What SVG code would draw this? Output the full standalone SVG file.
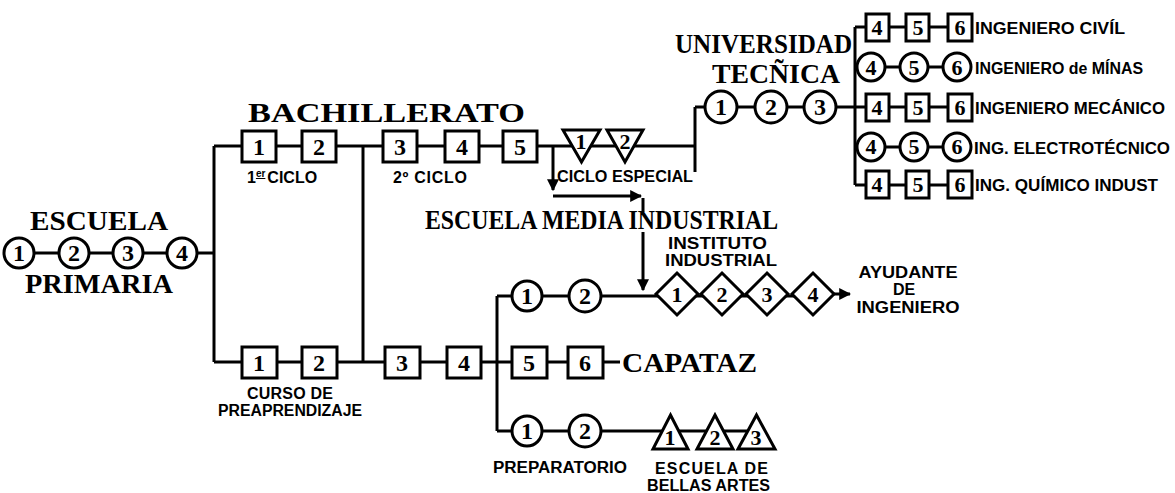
<svg xmlns="http://www.w3.org/2000/svg" width="1175" height="493" viewBox="0 0 1175 493">
<style>
.ln{stroke:#000;stroke-width:3;fill:none}
.sh{fill:#fff;stroke:#000;stroke-width:3}
.n{font-family:"Liberation Serif","DejaVu Serif",serif;font-weight:bold;font-size:24px;text-anchor:middle}
.ns{font-family:"Liberation Serif","DejaVu Serif",serif;font-weight:bold;font-size:22px;text-anchor:middle}
.t{font-family:"Liberation Serif","DejaVu Serif",serif;font-weight:bold;font-size:28px}
.l{font-family:"Liberation Sans",Arial,sans-serif;font-weight:bold;font-size:16px}
.r{font-family:"Liberation Sans",Arial,sans-serif;font-weight:bold;font-size:17px}
</style>
<defs>
<marker id="ah" viewBox="0 0 10 10" refX="9" refY="5" markerWidth="4" markerHeight="4" orient="auto" markerUnits="strokeWidth">
<path d="M0,0 L10,5 L0,10 z" fill="#000"/>
</marker>
</defs>

<g id="connectors">
<path class="ln" d="M19,253 H214"/>
<path class="ln" d="M214,146 V362"/>
<path class="ln" d="M214,146 H695"/>
<path class="ln" d="M363,146 V362"/>
<path class="ln" d="M695,107 V172"/>
<path class="ln" d="M695,107 H855"/>
<path class="ln" d="M553,146 V190" marker-end="url(#ah)"/>
<path class="ln" d="M553,196 H641" marker-end="url(#ah)"/>
<path class="ln" d="M643,198 V212"/>
<path class="ln" d="M643,232 V290" marker-end="url(#ah)"/>
<path class="ln" d="M214,362 H620"/>
<path class="ln" d="M497,296 V431"/>
<path class="ln" d="M497,296 H810"/>
<path class="ln" d="M813,294 H850" marker-end="url(#ah)"/>
<path class="ln" d="M497,431 H760"/>
<path class="ln" d="M855,27 V185"/>
<path class="ln" d="M855,27 H960"/>
<path class="ln" d="M855,67 H957"/>
<path class="ln" d="M855,107 H960"/>
<path class="ln" d="M855,147 H957"/>
<path class="ln" d="M855,185 H960"/>
</g>

<g id="escuela-primaria">
<text class="t" x="30" y="230" textLength="138" lengthAdjust="spacingAndGlyphs">ESCUELA</text>
<circle class="sh" cx="19" cy="253" r="15"/><text class="n" x="19" y="261">1</text>
<circle class="sh" cx="74" cy="253" r="15"/><text class="n" x="74" y="261">2</text>
<circle class="sh" cx="128" cy="253" r="15"/><text class="n" x="128" y="261">3</text>
<circle class="sh" cx="182" cy="253" r="15"/><text class="n" x="182" y="261">4</text>
<text class="t" x="25" y="293" textLength="148" lengthAdjust="spacingAndGlyphs">PRIMARIA</text>
</g>

<g id="bachillerato">
<text class="t" x="248" y="122" textLength="277" lengthAdjust="spacingAndGlyphs">BACHILLERATO</text>
<rect class="sh" x="242" y="131" width="34" height="31"/><text class="n" x="259" y="155">1</text>
<rect class="sh" x="302" y="131" width="34" height="31"/><text class="n" x="319" y="155">2</text>
<rect class="sh" x="383" y="131" width="34" height="31"/><text class="n" x="400" y="155">3</text>
<rect class="sh" x="445" y="131" width="34" height="31"/><text class="n" x="462" y="155">4</text>
<rect class="sh" x="503" y="131" width="34" height="31"/><text class="n" x="520" y="155">5</text>
<text class="l" x="247" y="183">1<tspan font-size="10" dy="-6" text-decoration="underline">er</tspan><tspan dy="6" dx="2">CICLO</tspan></text>
<text class="l" x="393" y="183" textLength="74" lengthAdjust="spacing">2º CICLO</text>
</g>

<g id="ciclo-especial">
<path class="sh" d="M563,130 H600 L581.5,162 Z"/><text class="ns" x="581" y="149">1</text>
<path class="sh" d="M607,130 H643 L625,162 Z"/><text class="ns" x="625" y="149">2</text>
<text class="l" x="557" y="182" textLength="136" lengthAdjust="spacingAndGlyphs">CICLO ESPECIAL</text>
</g>

<g id="escuela-media-industrial">
<text class="t" x="425" y="229" font-size="27" textLength="353" lengthAdjust="spacingAndGlyphs">ESCUELA MEDIA INDUSTRIAL</text>
</g>

<g id="universidad-tecnica">
<text class="t" x="852" y="53" font-size="26" text-anchor="end" textLength="177" lengthAdjust="spacingAndGlyphs">UNIVERSIDAD</text>
<text class="t" x="712" y="83" font-size="27" textLength="128" lengthAdjust="spacingAndGlyphs">TECÑICA</text>
<circle class="sh" cx="721" cy="107" r="16"/><text class="n" x="721" y="115">1</text>
<circle class="sh" cx="771" cy="107" r="16"/><text class="n" x="771" y="115">2</text>
<circle class="sh" cx="820" cy="107" r="16"/><text class="n" x="820" y="115">3</text>
</g>

<g id="ingeniero-civil">
<rect class="sh" x="866" y="14" width="23" height="27"/><text class="ns" x="877" y="35">4</text>
<rect class="sh" x="906" y="14" width="23" height="27"/><text class="ns" x="918" y="35">5</text>
<rect class="sh" x="948" y="14" width="24" height="27"/><text class="ns" x="960" y="35">6</text>
<text class="r" x="975" y="34" textLength="150" lengthAdjust="spacingAndGlyphs">INGENIERO  CIVÍL</text>
</g>
<g id="ingeniero-minas">
<circle class="sh" cx="871" cy="67" r="14"/><text class="ns" x="871" y="75">4</text>
<circle class="sh" cx="914" cy="67" r="14"/><text class="ns" x="914" y="75">5</text>
<circle class="sh" cx="957" cy="67" r="14"/><text class="ns" x="957" y="75">6</text>
<text class="r" x="975" y="74" textLength="168" lengthAdjust="spacingAndGlyphs">INGENIERO de MÍNAS</text>
</g>
<g id="ingeniero-mecanico">
<rect class="sh" x="866" y="94" width="23" height="27"/><text class="ns" x="877" y="115">4</text>
<rect class="sh" x="906" y="94" width="23" height="27"/><text class="ns" x="918" y="115">5</text>
<rect class="sh" x="948" y="94" width="24" height="27"/><text class="ns" x="960" y="115">6</text>
<text class="r" x="975" y="114" textLength="190" lengthAdjust="spacingAndGlyphs">INGENIERO MECÁNICO</text>
</g>
<g id="ing-electrotecnico">
<circle class="sh" cx="871" cy="147" r="14"/><text class="ns" x="871" y="154">4</text>
<circle class="sh" cx="914" cy="147" r="14"/><text class="ns" x="914" y="154">5</text>
<circle class="sh" cx="957" cy="147" r="14"/><text class="ns" x="957" y="154">6</text>
<text class="r" x="974" y="154" textLength="196" lengthAdjust="spacingAndGlyphs">ING. ELECTROTÉCNICO</text>
</g>
<g id="ing-quimico">
<rect class="sh" x="866" y="171" width="23" height="27"/><text class="ns" x="877" y="192">4</text>
<rect class="sh" x="906" y="171" width="23" height="27"/><text class="ns" x="918" y="192">5</text>
<rect class="sh" x="948" y="171" width="24" height="27"/><text class="ns" x="960" y="192">6</text>
<text class="r" x="975" y="191" textLength="183" lengthAdjust="spacingAndGlyphs">ING. QUÍMICO INDUST</text>
</g>

<g id="curso-preaprendizaje">
<rect class="sh" x="242" y="347" width="35" height="31"/><text class="n" x="259" y="371">1</text>
<rect class="sh" x="302" y="347" width="35" height="31"/><text class="n" x="319" y="371">2</text>
<text class="l" x="247" y="399" textLength="86" lengthAdjust="spacing">CURSO  DE</text>
<text class="l" x="218" y="416" textLength="144" lengthAdjust="spacingAndGlyphs">PREAPRENDIZAJE</text>
</g>

<g id="capataz">
<rect class="sh" x="385" y="347" width="35" height="31"/><text class="n" x="402" y="371">3</text>
<rect class="sh" x="447" y="347" width="34" height="31"/><text class="n" x="464" y="371">4</text>
<rect class="sh" x="512" y="347" width="35" height="31"/><text class="n" x="529" y="371">5</text>
<rect class="sh" x="568" y="347" width="35" height="31"/><text class="n" x="585" y="371">6</text>
<text class="t" x="622" y="372" textLength="135" lengthAdjust="spacingAndGlyphs">CAPATAZ</text>
</g>

<g id="instituto-industrial">
<circle class="sh" cx="527" cy="296" r="15"/><text class="n" x="527" y="304">1</text>
<circle class="sh" cx="585" cy="296" r="16"/><text class="n" x="585" y="304">2</text>
<text class="l" x="668" y="249" font-size="15" textLength="99" lengthAdjust="spacingAndGlyphs">INSTITUTO</text>
<text class="l" x="665" y="266" font-size="15" textLength="112" lengthAdjust="spacingAndGlyphs">INDUSTRIAL</text>
<path class="sh" d="M677,273 L698,294 L677,315 L656,294 Z"/><text class="ns" x="677" y="302">1</text>
<path class="sh" d="M722,273 L743,294 L722,315 L701,294 Z"/><text class="ns" x="722" y="302">2</text>
<path class="sh" d="M767,273 L788,294 L767,315 L746,294 Z"/><text class="ns" x="767" y="302">3</text>
<path class="sh" d="M813,273 L834,294 L813,315 L792,294 Z"/><text class="ns" x="813" y="302">4</text>
<text class="l" x="908" y="278" text-anchor="middle" textLength="99" lengthAdjust="spacingAndGlyphs">AYUDANTE</text>
<text class="l" x="904" y="295" text-anchor="middle">DE</text>
<text class="l" x="908" y="313" text-anchor="middle" textLength="103" lengthAdjust="spacingAndGlyphs">INGENIERO</text>
</g>

<g id="bellas-artes">
<circle class="sh" cx="527" cy="431" r="15"/><text class="n" x="527" y="439">1</text>
<circle class="sh" cx="585" cy="431" r="16"/><text class="n" x="585" y="439">2</text>
<text class="l" x="493" y="473" textLength="134" lengthAdjust="spacingAndGlyphs">PREPARATORIO</text>
<path class="sh" d="M670.5,415 L688,449 L653,449 Z"/><text class="ns" x="670" y="445">1</text>
<path class="sh" d="M715,415 L733,449 L697,449 Z"/><text class="ns" x="715" y="445">2</text>
<path class="sh" d="M756.5,415 L775,449 L738,449 Z"/><text class="ns" x="756" y="445">3</text>
<text class="l" x="655" y="474" textLength="113" lengthAdjust="spacing">ESCUELA  DE</text>
<text class="l" x="647" y="491" textLength="123" lengthAdjust="spacingAndGlyphs">BELLAS ARTES</text>
</g>
</svg>
